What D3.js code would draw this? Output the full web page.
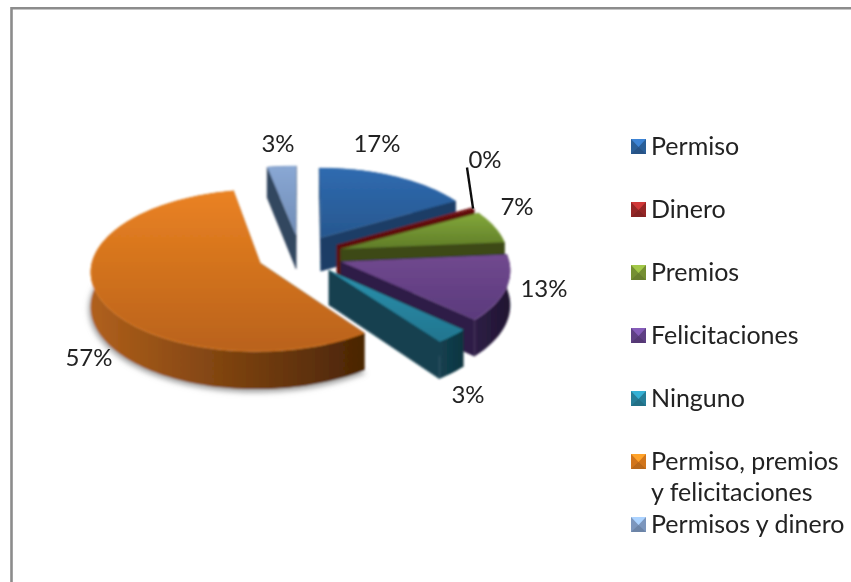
<!DOCTYPE html>
<html><head><meta charset="utf-8">
<script src="https://cdnjs.cloudflare.com/ajax/libs/d3/7.8.5/d3.min.js"></script>
<style>html,body{margin:0;padding:0;background:#fff}svg{display:block}</style>
</head><body><svg id="c" width="851" height="582"></svg>
<script>
const categories = ["Permiso","Dinero","Premios","Felicitaciones","Ninguno","Permiso, premios|y felicitaciones","Permisos y dinero"];
const values = [16.6,0.4,6.6,13.4,3,57,3.1];
const topLight = ["#2f6bb0","#7a1a1a","#83a83a","#71498f","#2b92ae","#ea8222","#8aa8d4"];
const topDark  = ["#27578f","#641010","#5f7c28","#5a3a7c","#22758f","#b9621a","#6f8cb6"];
const wallLeft = ["#1b3c66","#5e1010","#3c4a18","#2e1e46","#134050","#b0601c","#33465f"];
const wallRight= ["#1b3c66","#5e1010","#3c4a18","#1f1430","#0f3540","#4a2505","#33465f"];
const legendColors = ["#2f67a6","#a32c2c","#7f9c38","#684790","#2a8aa6","#e47f20","#86a4cf"];
const labelAt = [[377,142.5],[485,158.5],[517,205.5],[544,287.5],[468,393.5],[89,356.5],[278,142.5]];
const paintOrder = [6,0,1,2,3,4,5];

const W=851,H=582,C={x:300,y:255},R=167,EXPLODE=43,DEPTH=34,K=0.472,P=0.000532;
const svg=d3.select("#c"),defs=svg.append("defs");
const blur=defs.append("filter").attr("id","soft");
blur.append("feGaussianBlur").attr("stdDeviation",0.8);
const sh=defs.append("filter").attr("id","shadow").attr("x","-10%").attr("y","-10%").attr("width","120%").attr("height","120%");
sh.append("feGaussianBlur").attr("stdDeviation",2.5);
const textBlur=defs.append("filter").attr("id","tb");
textBlur.append("feGaussianBlur").attr("stdDeviation",0.4);

// frame
svg.append("path").attr("d",`M11.5,582V8.3H851`).attr("fill","none").attr("stroke","#8c8c8c").attr("stroke-width",2.6);

const arcs=d3.pie().sort(null).value(d=>d)(values);
function proj(X,Y,z){const f=1/(1+P*Y);return [C.x+X*f, C.y-K*Y*f+z*f];}
function pts(a){
  const mid=(a.startAngle+a.endAngle)/2;
  const ox=EXPLODE*Math.sin(mid), oy=EXPLODE*Math.cos(mid);
  const pt=(t,r,z)=>proj(ox+r*Math.sin(t),oy+r*Math.cos(t),z);
  const n=Math.max(3,Math.ceil((a.endAngle-a.startAngle)/0.03));
  const ts=d3.range(n+1).map(i=>a.startAngle+(a.endAngle-a.startAngle)*i/n);
  return {pt,ts,apex:pt(0,0,0),apexB:pt(0,0,DEPTH)};
}
const line=d3.line();
const g=svg.append("g").attr("filter","url(#soft)");

// soft shadow below the large slice
const shadowG=g.append("g").attr("filter","url(#shadow)");
(()=>{const {pt,ts,apexB}=pts(arcs[5]);
  shadowG.append("path").attr("d",line([apexB,...ts.map(t=>pt(t,R+2,DEPTH+2))])+"Z").attr("fill","#a4a4a4");})();

paintOrder.forEach(i=>{
  const a=arcs[i],{pt,ts,apex,apexB}=pts(a);
  const xs=ts.map(t=>pt(t,R,0)[0]);
  const lg=defs.append("linearGradient").attr("id","w"+i).attr("gradientUnits","userSpaceOnUse")
    .attr("x1",d3.min(xs)).attr("x2",d3.max(xs)).attr("y1",0).attr("y2",0);
  lg.append("stop").attr("offset",0).attr("stop-color",wallLeft[i]);
  lg.append("stop").attr("offset",1).attr("stop-color",wallRight[i]);
  const tg=defs.append("linearGradient").attr("id","t"+i).attr("x1",0).attr("x2",0).attr("y1",0).attr("y2",1);
  tg.append("stop").attr("offset",0).attr("stop-color",topLight[i]);
  tg.append("stop").attr("offset",1).attr("stop-color",topDark[i]);

  const s=g.append("g");
  const startTop=pt(a.startAngle,R,0),startBot=pt(a.startAngle,R,DEPTH);
  const endTop=pt(a.endAngle,R,0),endBot=pt(a.endAngle,R,DEPTH);
  s.append("path").attr("d",line([apex,startTop,startBot,apexB])+"Z").attr("fill",wallRight[i]).attr("stroke",wallRight[i]).attr("stroke-width",0.5);
  s.append("path").attr("d",line([apex,endTop,endBot,apexB])+"Z").attr("fill",wallLeft[i]).attr("stroke",wallLeft[i]).attr("stroke-width",0.5);
  s.append("path").attr("d",line([...ts.map(t=>pt(t,R,0)),...ts.slice().reverse().map(t=>pt(t,R,DEPTH))])+"Z").attr("fill",`url(#w${i})`);
  s.append("path").attr("d",line([apex,...ts.map(t=>pt(t,R,0))])+"Z").attr("fill",`url(#t${i})`);
  s.append("path").attr("d",line(ts.map(t=>pt(t,R-0.5,0)))).attr("fill","none").attr("stroke",topLight[i]).attr("stroke-opacity",0.6).attr("stroke-width",1);
});

// leader line for the 0% label
const tg=svg.append("g").attr("filter","url(#tb)");
(()=>{const a=arcs[1],{pt}=pts(a);const tip=pt((a.startAngle+a.endAngle)/2,R,0);
 tg.append("path").attr("d",line([[labelAt[1][0]-18,labelAt[1][1]+9],tip])).attr("stroke","#111").attr("stroke-width",2.4).attr("fill","none");})();

const FONT="Lato, 'Open Sans', sans-serif";
const pct=[17,0,7,13,3,57,3];
tg.selectAll("text.l").data(pct).join("text").attr("class","l")
  .attr("x",(d,i)=>labelAt[i][0]).attr("y",(d,i)=>labelAt[i][1])
  .attr("text-anchor","middle").attr("dominant-baseline","central")
  .attr("font-family",FONT).attr("font-size",24).attr("fill","#222")
  .text(d=>d+"%");

// legend
const rowY=d3.scaleLinear().domain([0,6]).range([146,524]);
const lg=svg.append("g");
categories.forEach((c,i)=>{
  const y=rowY(i),x=631,s=15;
  const col=d3.color(legendColors[i]);
  const m=lg.append("g").attr("filter","url(#tb)");
  m.append("rect").attr("x",x).attr("y",y-7).attr("width",s).attr("height",s).attr("fill",col.darker(0.25));
  m.append("path").attr("d",line([[x,y-7],[x+s,y-7],[x+s/2,y+1]])+"Z").attr("fill",col.brighter(0.7));
  m.append("path").attr("d",line([[x,y+8],[x+s,y+8],[x+s/2,y+1]])+"Z").attr("fill",col.darker(0.6));
  c.split("|").forEach((t,k)=>{
    lg.append("text").attr("x",651).attr("y",y-1+k*31).attr("dominant-baseline","central")
      .attr("filter","url(#tb)")
      .attr("font-family",FONT).attr("font-size",25).attr("fill","#222").text(t);
  });
});
</script></body></html>
